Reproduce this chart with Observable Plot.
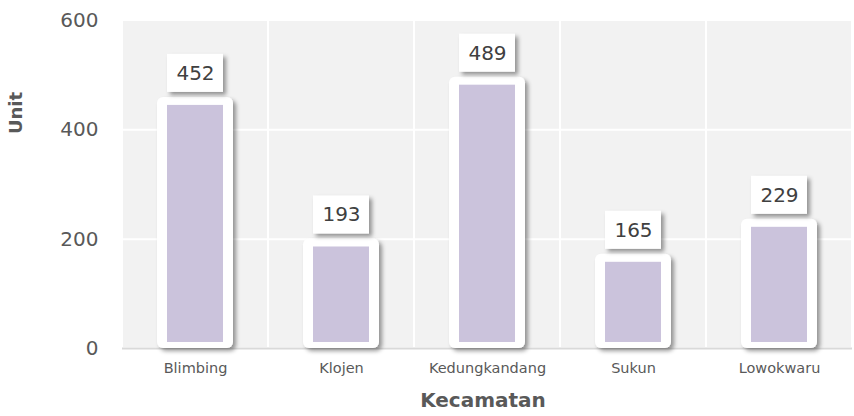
<!DOCTYPE html>
<html>
<head>
<meta charset="utf-8">
<script src="https://cdn.jsdelivr.net/npm/d3@7"></script>
<script src="https://cdn.jsdelivr.net/npm/@observablehq/plot@0.6"></script>
<style>
  html, body { margin: 0; padding: 0; background: white; }
</style>
</head>
<body>
<div id="chart"></div>
<script>
const categories = ["Blimbing", "Klojen", "Kedungkandang", "Sukun", "Lowokwaru"];
const values = [452, 193, 489, 165, 229];
const yTicks = [0, 200, 400, 600];
const xTitle = "Kecamatan";
const yTitle = "Unit";

const data = categories.map((k, i) => ({k, v: values[i]}));
const yMax = yTicks[yTicks.length - 1];

const chart = Plot.plot({
  width: 854,
  height: 416,
  marginLeft: 122,
  marginRight: 2,
  marginTop: 20,
  marginBottom: 68,
  style: {fontFamily: "'DejaVu Sans', sans-serif", color: "#595959", background: "white"},
  x: {domain: categories, padding: 0, axis: null},
  y: {domain: [0, yMax], axis: null},
  marks: [
    Plot.barY(categories, {x: d => d, y1: 0, y2: yMax, fill: "#f2f2f2", stroke: "white", strokeWidth: 2}),
    Plot.ruleY(yTicks.slice(1, -1), {stroke: "white", strokeWidth: 2}),
    Plot.ruleY([0], {stroke: "#d9d9d9", strokeWidth: 2}),
    Plot.barY(data, {x: "k", y: "v", fill: "white", insetLeft: 35, insetRight: 35, insetTop: -4, rx: 6}),
    Plot.barY(data, {x: "k", y: "v", fill: "#cbc3dc", insetLeft: 45, insetRight: 45, insetTop: 4, insetBottom: 6}),
    Plot.barY(data, {x: "k", y1: "v", y2: "v", fill: "white", insetLeft: 45, insetRight: 45, insetTop: -47, insetBottom: 9}),
    Plot.text(data, {x: "k", y: "v", text: d => String(d.v), dy: -28, fontSize: 20, fill: "#404040"}),
    Plot.axisY({ticks: yTicks, tickSize: 0, tickPadding: 24, fontSize: 20, label: null}),
    Plot.axisX({tickSize: 0, tickPadding: 14, fontSize: 14.5, label: null})
  ]
});

const svg = d3.select(chart);
const defs = svg.insert("defs", ":first-child");
const f = defs.append("filter").attr("id", "shadow")
  .attr("x", "-20%").attr("y", "-20%").attr("width", "150%").attr("height", "150%");
f.append("feDropShadow").attr("dx", 3).attr("dy", 3).attr("stdDeviation", 2)
  .attr("flood-color", "#000").attr("flood-opacity", 0.4);
svg.selectAll("g").filter(function() {
  return this.getAttribute("fill") === "white" && this.querySelector("rect");
}).selectAll("rect").attr("filter", "url(#shadow)");

svg.append("text")
  .attr("x", 483).attr("y", 401)
  .attr("text-anchor", "middle").attr("dominant-baseline", "middle")
  .attr("font-size", 20).attr("font-weight", "bold").attr("fill", "#595959")
  .text(xTitle);

svg.append("text")
  .attr("transform", "translate(17,113) rotate(-90)")
  .attr("text-anchor", "middle").attr("dominant-baseline", "middle")
  .attr("font-size", 18).attr("font-weight", "bold").attr("fill", "#595959")
  .text(yTitle);

document.getElementById("chart").appendChild(chart);
</script>
</body>
</html>
